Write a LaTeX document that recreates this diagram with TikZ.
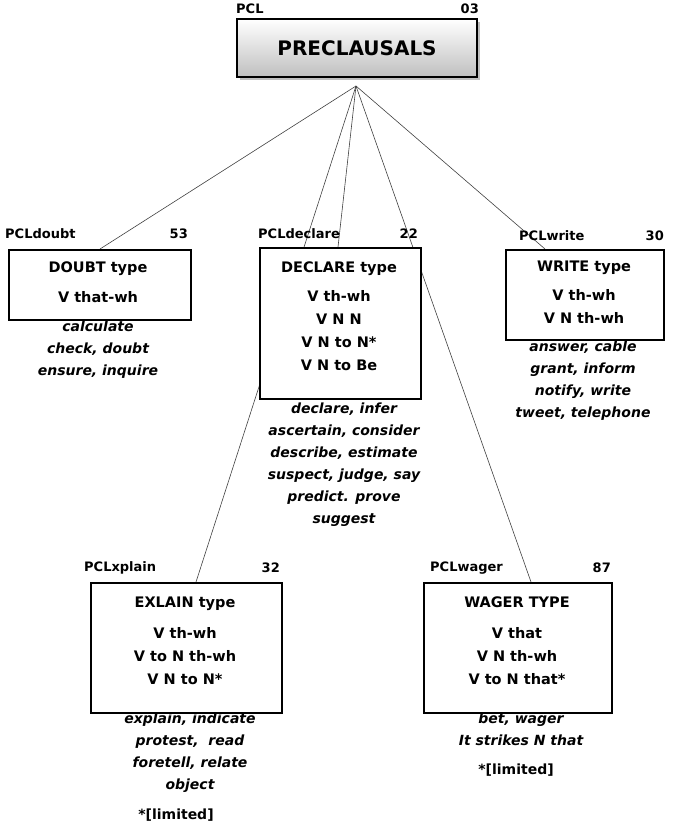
\documentclass[tikz,border=0pt]{standalone}
\usepackage{fontspec}
\setmainfont{DejaVu Sans}
\usetikzlibrary{shadows}
\begin{document}
\begin{tikzpicture}[x=1pt,y=-1pt,
 box/.style={draw,line width=1.5pt,fill=white,minimum width=#1,anchor=north west,inner sep=0},
 tag/.style={font=\bfseries\fontsize{13}{14}\selectfont,inner sep=0},
 body/.style={font=\bfseries\fontsize{14.5}{23}\selectfont,align=center,inner sep=0},
 ex/.style={font=\bfseries\itshape\fontsize{14}{22}\selectfont,align=center,inner sep=0},
 con/.style={draw,line width=0.6pt,black!75}]
\useasboundingbox (0,0) rectangle (685,834);
\coordinate (apex) at (356,86);
\coordinate (d) at (100,249);
\coordinate (dc) at (338,247);
\coordinate (w) at (545,249);
\coordinate (x) at (196,582);
\coordinate (g) at (531,582);
\foreach \t in {d,dc,w,x,g} \draw[con] (apex) -- (\t);
% top
\node[draw,line width=1.5pt,top color=white,bottom color=black!25,drop shadow,minimum width=240,minimum height=58,font=\bfseries\fontsize{20}{22}\selectfont] (top) at (357,48) {PRECLAUSALS};
\node[tag,anchor=west] (tl) at (236,9) {PCL};
\node[tag,anchor=east] (tr) at (479,9) {03};
% doubt
\node[box=182,minimum height=70] (db) at (8,249) {};
\node[tag,anchor=west] at (5,234) {PCLdoubt};
\node[tag,anchor=east] at (188,234) {53};
\node[body,anchor=north] at (98,262) {DOUBT type\\[7pt]V that-wh};
\node[ex,anchor=north] at (98,321) {calculate\\check, doubt\\ensure, inquire};
% declare
\node[box=161,minimum height=151] (dcb) at (259,247) {};
\node[tag,anchor=west] at (258,234) {PCLdeclare};
\node[tag,anchor=east] at (418,234) {22};
\node[body,anchor=north] at (339,262) {DECLARE type\\[6pt]V th-wh\\V N N\\V N to N*\\V N to Be};
\node[ex,anchor=north,fill=white] at (344,403) {declare, infer\\ascertain, consider\\describe, estimate\\suspect, judge, say\\predict. prove\\suggest};
% write
\node[box=158,minimum height=90] (wb) at (505,249) {};
\node[tag,anchor=west] at (519,236) {PCLwrite};
\node[tag,anchor=east] at (664,236) {30};
\node[body,anchor=north] at (584,261) {WRITE type\\[6pt]V th-wh\\V N th-wh};
\node[ex,anchor=north] at (583,341) {answer, cable\\grant, inform\\notify, write\\tweet, telephone};
% xplain
\node[box=191,minimum height=130] (xb) at (90,582) {};
\node[tag,anchor=west] at (84,568) {PCLxplain};
\node[tag,anchor=east] at (280,568) {32};
\node[body,anchor=north] at (185,597) {EXLAIN type\\[8pt]V th-wh\\V to N th-wh\\V N to N*};
\node[ex,anchor=north] at (190,713) {explain, indicate\\protest,\ \ read\\foretell, relate\\object};
\node[tag,font=\bfseries\fontsize{14}{16}\selectfont] at (176,815) {*[limited]};
% wager
\node[box=188,minimum height=130] (gb) at (423,582) {};
\node[tag,anchor=west] at (430,568) {PCLwager};
\node[tag,anchor=east] at (611,568) {87};
\node[body,anchor=north] at (517,597) {WAGER TYPE\\[8pt]V that\\V N th-wh\\V to N that*};
\node[ex,anchor=north] at (521,713) {bet, wager\\It strikes N that};
\node[tag,font=\bfseries\fontsize{14}{16}\selectfont] at (516,770) {*[limited]};
\end{tikzpicture}
\end{document}
